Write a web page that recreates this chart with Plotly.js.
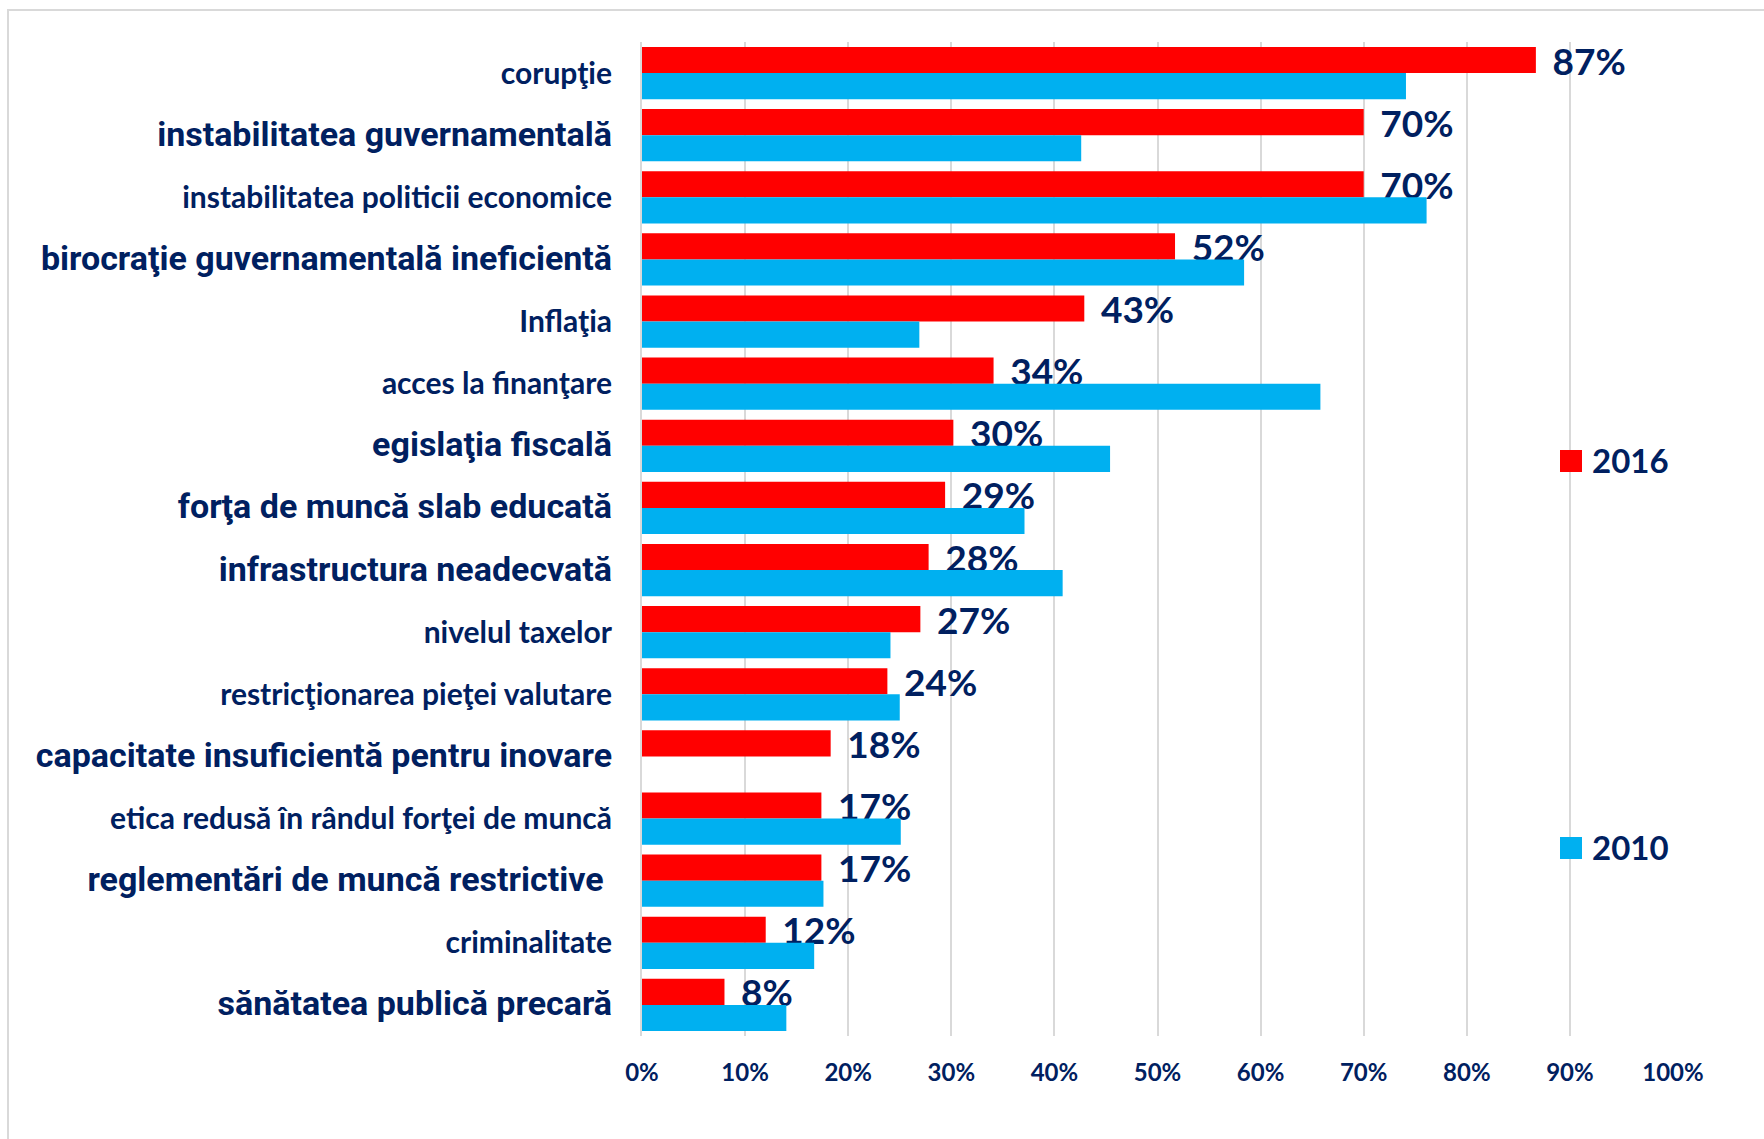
<!DOCTYPE html>
<html>
<head>
<meta charset="utf-8">
<script src="https://cdn.plot.ly/plotly-3.0.1.min.js"></script>
<style>html,body{margin:0;padding:0;background:#fff;}#chart{width:1764px;height:1139px;}</style>
</head>
<body>
<div id="chart"></div>
<script>
const categories = [
  "corupţie",
  "instabilitatea guvernamentală",
  "instabilitatea politicii economice",
  "birocraţie guvernamentală ineficientă",
  "Inflaţia",
  "acces la finanţare",
  "egislaţia fiscală",
  "forţa de muncă slab educată",
  "infrastructura neadecvată",
  "nivelul taxelor",
  "restricţionarea pieţei valutare",
  "capacitate insuficientă pentru inovare",
  "etica redusă în rândul forţei de muncă",
  "reglementări de muncă restrictive",
  "criminalitate",
  "sănătatea publică precară"
];
const seriesNames = ["2016", "2010"];
const values2016 = [86.7, 70.0, 70.0, 51.7, 42.9, 34.1, 30.2, 29.4, 27.8, 27.0, 23.8, 18.3, 17.4, 17.4, 12.0, 8.0];
const values2010 = [74.1, 42.6, 76.1, 58.4, 26.9, 65.8, 45.4, 37.1, 40.8, 24.1, 25.0, null, 25.1, 17.6, 16.7, 14.0];
const xTickVals = [0, 10, 20, 30, 40, 50, 60, 70, 80, 90, 100];
const xTickText = ["0%", "10%", "20%", "30%", "40%", "50%", "60%", "70%", "80%", "90%", "100%"];

const NAVY = "#002060";
const RED = "#FF0000";
const BLUE = "#00B0F0";
const CAL = "Lato, 'Open Sans', sans-serif";

// labels drawn in the larger Arial-like typeface in the original
const arialLabels = new Set([
  "instabilitatea guvernamentală",
  "birocraţie guvernamentală ineficientă",
  "egislaţia fiscală",
  "forţa de muncă slab educată",
  "infrastructura neadecvată",
  "capacitate insuficientă pentru inovare",
  "reglementări de muncă restrictive",
  "sănătatea publică precară"
]);
const yTickText = categories.map(c => {
  if (arialLabels.has(c)) {
    const extra = c === "reglementări de muncă restrictive" ? "\u00a0" : "";
    return '<span style="font-family:Roboto;font-size:34px">' + c + extra + '</span>';
  }
  return '<span style="font-family:Lato;font-size:30px">' + c + '</span>';
});

const traces = [
  {
    type: "bar", orientation: "h", name: seriesNames[0],
    y: categories, x: values2016,
    marker: {color: RED},
    texttemplate: "\u00a0\u2009%{x:.0f}%",
    textposition: "outside",
    constraintext: "none",
    cliponaxis: false,
    textfont: {family: CAL, size: 37, color: NAVY, weight: "bold"},
    showlegend: false,
    hoverinfo: "x+y+name"
  },
  {
    type: "bar", orientation: "h", name: seriesNames[1],
    y: categories, x: values2010,
    marker: {color: BLUE},
    showlegend: false,
    hoverinfo: "x+y+name"
  }
];

const L = 642, R = 1673, T = 42, B = 1036;
const W = 1764, H = 1139;
const px = v => (v - L) / (R - L);
const py = v => (B - v) / (B - T);

const layout = {
  width: W, height: H,
  margin: {l: L, r: W - R, t: T, b: H - B, pad: 0},
  paper_bgcolor: "#fff", plot_bgcolor: "#fff",
  barmode: "group", bargap: 0.16, bargroupgap: 0,
  font: {family: CAL, color: NAVY},
  xaxis: {
    range: [0, 100], tickmode: "array", tickvals: xTickVals, ticktext: xTickText,
    showgrid: true, gridcolor: "#D9D9D9", gridwidth: 2,
    zeroline: false, showline: false, ticks: "",
    ticklabelstandoff: 20,
    tickfont: {family: CAL, size: 24, color: NAVY, weight: "bold"},
    fixedrange: true
  },
  yaxis: {
    autorange: "reversed", type: "category",
    tickmode: "array", tickvals: categories, ticktext: yTickText,
    showgrid: false, zeroline: false,
    showline: true, linecolor: "#D9D9D9", linewidth: 2,
    ticks: "", ticklabelstandoff: 22,
    tickfont: {family: CAL, size: 30, color: NAVY, weight: "bold"},
    fixedrange: true
  },
  shapes: [
    {type: "rect", xref: "paper", yref: "paper",
     x0: px(8), x1: px(1800), y0: py(1200), y1: py(10),
     line: {color: "#D9D9D9", width: 2}, fillcolor: "rgba(0,0,0,0)", layer: "below"},
    {type: "rect", xref: "paper", yref: "paper",
     x0: px(1560), x1: px(1582), y0: py(472), y1: py(450),
     line: {width: 0}, fillcolor: RED},
    {type: "rect", xref: "paper", yref: "paper",
     x0: px(1560), x1: px(1582), y0: py(859), y1: py(837),
     line: {width: 0}, fillcolor: BLUE}
  ],
  annotations: [
    {xref: "paper", yref: "paper", x: px(1590), y: py(460), xanchor: "left", yanchor: "middle",
     text: seriesNames[0], showarrow: false,
     font: {family: CAL, size: 33, color: NAVY, weight: "bold"}},
    {xref: "paper", yref: "paper", x: px(1590), y: py(847), xanchor: "left", yanchor: "middle",
     text: seriesNames[1], showarrow: false,
     font: {family: CAL, size: 33, color: NAVY, weight: "bold"}}
  ]
};

Plotly.newPlot("chart", traces, layout, {displayModeBar: false, staticPlot: true});
</script>
</body>
</html>
